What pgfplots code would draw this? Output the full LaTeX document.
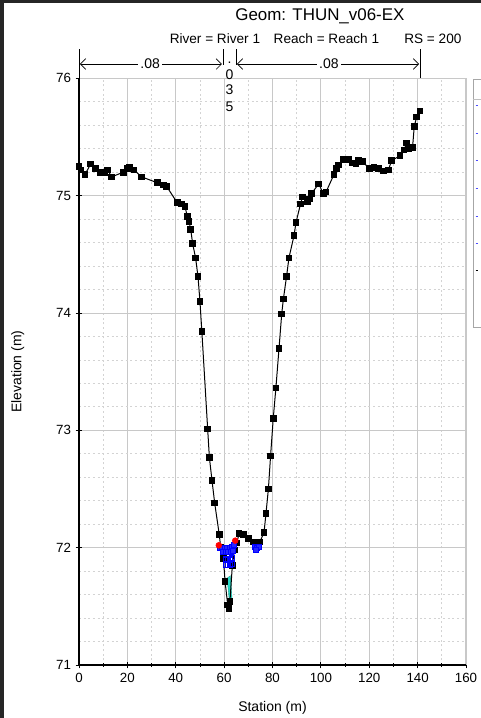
\documentclass[border=0pt]{standalone}
\usepackage{fontspec}
\setmainfont{Liberation Sans}
\usepackage{pgfplots}
\usepackage{pgfplotstable}
\pgfplotsset{compat=1.18}
\usetikzlibrary{arrows.meta}

% Ground profile: station (m), elevation (m)
\pgfplotstableread{
st    el
0.0   75.25
0.9   75.22
2.5   75.18
4.8   75.27
6.9   75.23
8.7   75.20
10.5  75.20
11.8  75.22
13.5  75.16
18.3  75.20
20.0  75.23
21.0  75.24
22.7  75.22
25.9  75.16
32.4  75.11
34.9  75.09
36.2  75.08
40.6  74.94
42.4  74.93
43.8  74.91
44.8  74.82
45.5  74.78
46.2  74.71
47.0  74.59
48.2  74.47
49.2  74.31
50.0  74.10
50.8  73.84
53.2  73.01
53.9  72.77
55.0  72.57
56.1  72.38
58.0  72.11
58.6  72.00
59.7  71.91
60.4  71.71
61.5  71.51
62.0  71.48
62.4  71.54
63.4  71.85
64.3  71.98
65.2  72.04
66.2  72.12
67.9  72.11
70.0  72.08
72.1  72.05
73.4  72.01
74.8  72.05
76.5  72.13
77.3  72.29
78.3  72.50
79.2  72.78
80.3  73.10
81.4  73.36
82.7  73.70
83.8  73.99
84.5  74.12
85.8  74.31
86.8  74.47
88.9  74.66
89.7  74.77
91.6  74.93
92.4  74.99
94.4  74.95
95.2  74.97
96.2  75.02
99.1  75.10
101.0 75.02
102.1 75.03
105.4 75.18
106.5 75.23
107.2 75.26
109.3 75.31
111.3 75.31
113.1 75.28
114.5 75.27
115.5 75.30
117.3 75.29
120.0 75.23
121.9 75.24
123.7 75.23
125.8 75.21
127.9 75.22
129.3 75.30
132.7 75.34
134.4 75.39
135.5 75.45
136.5 75.40
137.9 75.41
138.6 75.59
139.6 75.67
141.0 75.72
}\groundtab

\pgfplotstableread{
st    el
58.2  72.00
59.2  72.00
60.2  72.00
61.2  72.00
62.2  72.00
63.2  72.01
64.0  72.02
59.7  71.96
60.7  71.96
61.7  71.96
62.7  71.96
63.6  71.97
72.6  72.01
73.4  72.00
74.2  72.01
73.0  71.98
}\sqmarktab

\pgfplotstableread{
st    el
60.6  71.90
61.6  71.90
62.6  71.90
63.4  71.91
60.6  71.85
61.6  71.85
62.6  71.85
63.4  71.86
}\trimarktab

\pgfplotstableread{
st    el
57.8  72.02
64.6  72.06
}\banktab

\definecolor{gridgray}{RGB}{200,200,200}
\definecolor{waterc}{RGB}{40,220,200}

\begin{document}
\begin{tikzpicture}
\begin{axis}[
  scale only axis,
  width=290.25pt, height=440pt,
  xmin=0, xmax=160, ymin=71, ymax=76,
  xtick={0,20,...,160}, minor x tick num=1,
  ytick={71,72,...,76}, minor y tick num=4,
  grid=both,
  major grid style={gridgray, line width=0.7pt},
  minor grid style={gridgray!80, line width=0.6pt, dash pattern=on 1.5pt off 2pt},
  tick pos=left,
  tick align=center,
  major tick length=5pt, minor tick length=2.5pt,
  tick style={black, line width=0.6pt},
  minor y tick style={draw=none},
  axis line style={draw=none},
  ticklabel style={font=\fontsize{10}{11}\selectfont},
  /pgf/number format/assume math mode=true,
  clip=false,
]
% axis frame: dark left and bottom, light top and right
\draw[gridgray, line width=0.8pt] (rel axis cs:0,1) -- (rel axis cs:1,1) -- (rel axis cs:1,0);
\draw[black, line width=0.8pt] (rel axis cs:0,1) -- (rel axis cs:0,0) -- (rel axis cs:1,0);

% water wedge in the channel bottom
\addplot[fill=waterc, draw=waterc!70!black, line width=0.3pt] coordinates
  {(61.2,71.74) (62.6,71.76) (63.3,71.56) (62.3,71.52)} -- cycle;

% ground line
\addplot[black, line width=0.75pt, mark=square*, mark size=2.1pt,
  mark options={solid, fill=black}] table[x=st, y=el] {\groundtab};

% channel markers
\addplot[only marks, blue, mark=square, mark size=1.8pt, line width=0.9pt]
  table[x=st, y=el] {\trimarktab};
\addplot[only marks, blue, mark=square*, mark size=1.9pt, line width=0.6pt,
  mark options={fill=blue!85}] table[x=st, y=el] {\sqmarktab};
\addplot[only marks, red, mark=*, mark size=2.2pt] table[x=st, y=el] {\banktab};

% titles
\node[font=\fontsize{12.7}{14}\selectfont] at (axis cs:99.6,76.53) {Geom: THUN\_v06-EX};
\node[font=\fontsize{10.2}{12}\selectfont] at (axis cs:56.2,76.34) {River = River 1};
\node[font=\fontsize{10.2}{12}\selectfont] at (axis cs:102.3,76.34) {Reach = Reach 1};
\node[font=\fontsize{10.2}{12}\selectfont] at (axis cs:146.3,76.34) {RS = 200};

% Manning's n ranges
\draw[black, line width=0.5pt] (axis cs:0,76.25) -- (axis cs:0,76);
\draw[black, line width=0.5pt] (axis cs:59.5,76.25) -- (axis cs:59.5,76.11);
\draw[black, line width=0.5pt] (axis cs:64.9,76.25) -- (axis cs:64.9,76.11);
\draw[black, line width=0.5pt] (axis cs:141,76.25) -- (axis cs:141,76);
\draw[black, line width=0.5pt, {Straight Barb[length=4pt]}-{Straight Barb[length=4pt]}]
  (axis cs:0.4,76.122) -- (axis cs:59.1,76.122);
\draw[black, line width=0.5pt, {Straight Barb[length=4pt]}-{Straight Barb[length=4pt]}]
  (axis cs:65.3,76.122) -- (axis cs:140.6,76.122);
\node[fill=white, inner sep=1.5pt, font=\fontsize{10.5}{12}\selectfont] at (axis cs:29.4,76.122) {.08};
\node[fill=white, inner sep=1.5pt, font=\fontsize{10.5}{12}\selectfont] at (axis cs:103.3,76.122) {.08};
\node[anchor=base, inner sep=0pt, font=\fontsize{10.5}{12}\selectfont] at (axis cs:62.2,76.130) {.};
\node[anchor=base, inner sep=0pt, font=\fontsize{10.5}{12}\selectfont] at (axis cs:62.2,75.994) {0};
\node[anchor=base, inner sep=0pt, font=\fontsize{10.5}{12}\selectfont] at (axis cs:62.2,75.858) {3};
\node[anchor=base, inner sep=0pt, font=\fontsize{10.5}{12}\selectfont] at (axis cs:62.2,75.721) {5};

% axis labels
\node[font=\fontsize{10.5}{12}\selectfont] at (rel axis cs:0.5,-0.0733) {Station (m)};
\node[rotate=90, font=\fontsize{10.5}{12}\selectfont] at (rel axis cs:-0.158,0.5) {Elevation (m)};

% legend frame at the right edge
\draw[gray!70, line width=0.6pt] (axis cs:162.9,75.99) rectangle (axis cs:175,73.88);
\draw[gray!50, line width=0.4pt] (axis cs:162.9,75.82) -- (axis cs:175,75.82);
\draw[blue!70, line width=0.6pt] (axis cs:164.0,75.77) -- (axis cs:164.8,75.77);
\draw[blue!70, line width=0.6pt] (axis cs:164.0,75.53) -- (axis cs:164.8,75.53);
\draw[blue!70, line width=0.6pt] (axis cs:164.0,75.30) -- (axis cs:164.8,75.30);
\draw[blue!70, line width=0.6pt] (axis cs:164.0,75.06) -- (axis cs:164.8,75.06);
\draw[blue!70, line width=0.6pt] (axis cs:164.0,74.82) -- (axis cs:164.8,74.82);
\draw[blue!70, line width=0.6pt] (axis cs:164.0,74.59) -- (axis cs:164.8,74.59);
\draw[black, line width=0.6pt] (axis cs:164.0,74.36) -- (axis cs:164.8,74.36);
\end{axis}
\pgfresetboundingbox
\path[use as bounding box] (-59.25pt,-39.75pt) rectangle (301.5pt,498.75pt);
\fill[black!85] (-59.25pt,-39.75pt) rectangle (-56.5pt,498.75pt);
\fill[black!85] (-59.25pt,496.5pt) rectangle (301.5pt,498.75pt);
\end{tikzpicture}
\end{document}
